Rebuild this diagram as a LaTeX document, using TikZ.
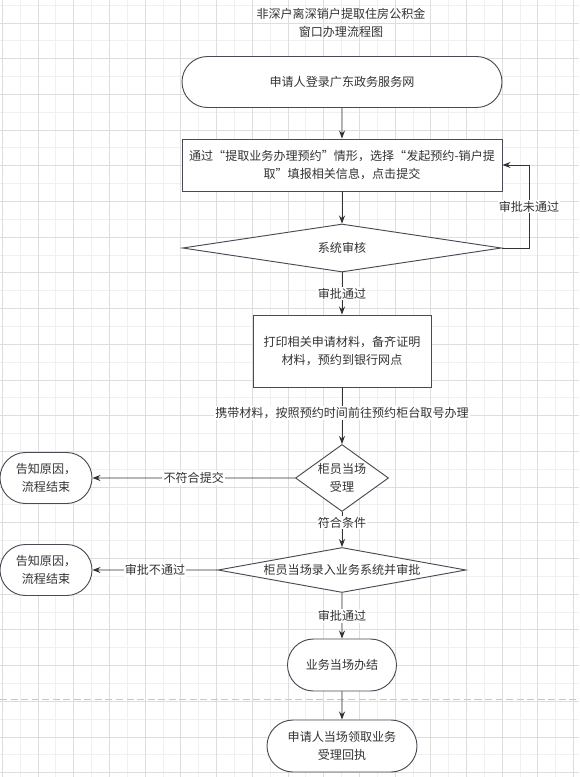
\documentclass[tikz,border=0pt]{standalone}
\usepackage{fontspec}
\setmainfont{Noto Sans CJK SC}
\usetikzlibrary{arrows.meta, positioning, shapes.geometric, shapes.misc}
\definecolor{cline}{HTML}{4A4A57}
\definecolor{carrow}{HTML}{333333}
\definecolor{ctext}{HTML}{333333}
\definecolor{cgridmin}{HTML}{F0F0F0}
\definecolor{cgridmaj}{HTML}{DEDEDE}
\definecolor{cpage}{HTML}{C8C8C8}
\tikzset{
  every picture/.style={line width=0.8pt},
  every node/.style={font=\fontsize{10.3pt}{15.5pt}\selectfont, text=ctext},
  term/.style={rounded rectangle, draw=cline, fill=white, align=center, inner sep=0pt},
  proc/.style={rectangle, draw=cline, fill=white, align=center, inner sep=3pt},
  decide/.style={diamond, draw=cline, fill=white, align=center, inner sep=0pt},
  arrow/.style={-{Stealth[length=2.4mm, width=1.8mm]}, draw=carrow},
  note/.style={fill=white, inner sep=1pt},
  gridmin/.style={draw=cgridmin, line width=0.6pt},
  gridmaj/.style={draw=cgridmaj, line width=0.6pt},
}

\begin{document}
\begin{tikzpicture}[x=0.03cm, y=-0.03cm]
  \useasboundingbox (0,0) rectangle (579,777);
  % ---- background grid ----
  \fill[white] (0,0) rectangle (579,777);
  \foreach \i in {0,...,32} \draw[gridmin] ({2.3+\i*17.85},0) -- ({2.3+\i*17.85},777);
  \foreach \i in {0,...,43} \draw[gridmin] (0,{5+\i*17.85}) -- (579,{5+\i*17.85});
  \foreach \i in {0,...,16} \draw[gridmaj] ({2.3+\i*35.7},0) -- ({2.3+\i*35.7},777);
  \foreach \i in {0,...,21} \draw[gridmaj] (0,{22.85+\i*35.7}) -- (579,{22.85+\i*35.7});
  \draw[cpage, dash pattern=on 6pt off 3pt] (0,699) -- (579,699);
  % ---- title ----
  \node[align=center] (title) at (341,23) {非深户离深销户提取住房公积金\\窗口办理流程图};
  % ---- main column ----
  \node[term, minimum width=9.6cm, minimum height=1.53cm] (login) at (342,82) {申请人登录广东政务服务网};
  \node[proc, minimum width=9.6cm, minimum height=1.56cm] (fill) at (342,165) {通过“提取业务办理预约”情形，选择“发起预约-销户提\\取”填报相关信息，点击提交};
  \node[decide, shape aspect=6, minimum width=9.57cm, minimum height=1.44cm] (check) at (342,248) {系统审核};
  \node[proc, minimum width=5.34cm, minimum height=2.16cm] (print) at (342,351) {打印相关申请材料，备齐证明\\材料，预约到银行网点};
  \node[decide, shape aspect=1.4, minimum width=2.79cm, minimum height=2.01cm] (accept) at (342,478) {柜员当场\\受理};
  \node[decide, shape aspect=5.5, minimum width=7.44cm, minimum height=1.35cm] (enter) at (342,570) {柜员当场录入业务系统并审批};
  \node[term, minimum width=3.27cm, minimum height=1.56cm] (done) at (342,665) {业务当场办结};
  \node[term, minimum width=4.5cm, minimum height=1.56cm] (receipt) at (342,746) {申请人当场领取业务\\受理回执};
  % ---- side ends ----
  \node[term, minimum width=2.76cm, minimum height=1.53cm] (end1) at (46,478) {告知原因，\\流程结束};
  \node[term, minimum width=2.76cm, minimum height=1.53cm] (end2) at (46,570) {告知原因，\\流程结束};
  % ---- connectors ----
  \draw[arrow] (login) -- (fill);
  \draw[arrow] (fill) -- (check);
  \draw[arrow] (check) -- node[note] {审批通过} (print);
  \draw[arrow] (print) -- node[note, pos=0.45] {携带材料，按照预约时间前往预约柜台取号办理} (accept);
  \draw[arrow] (accept) -- node[note, pos=0.3] {符合条件} (enter);
  \draw[arrow] (enter) -- node[note] {审批通过} (done);
  \draw[arrow] (done) -- (receipt);
  \draw[arrow] (accept) -- node[note] {不符合提交} (end1);
  \draw[arrow] (enter) -- node[note] {审批不通过} (end2);
  % loop back when rejected
  \draw[arrow] (check.east) -- ++(27,0) |- node[note, pos=0.25] {审批未通过} (fill.east);
\end{tikzpicture}
\end{document}
